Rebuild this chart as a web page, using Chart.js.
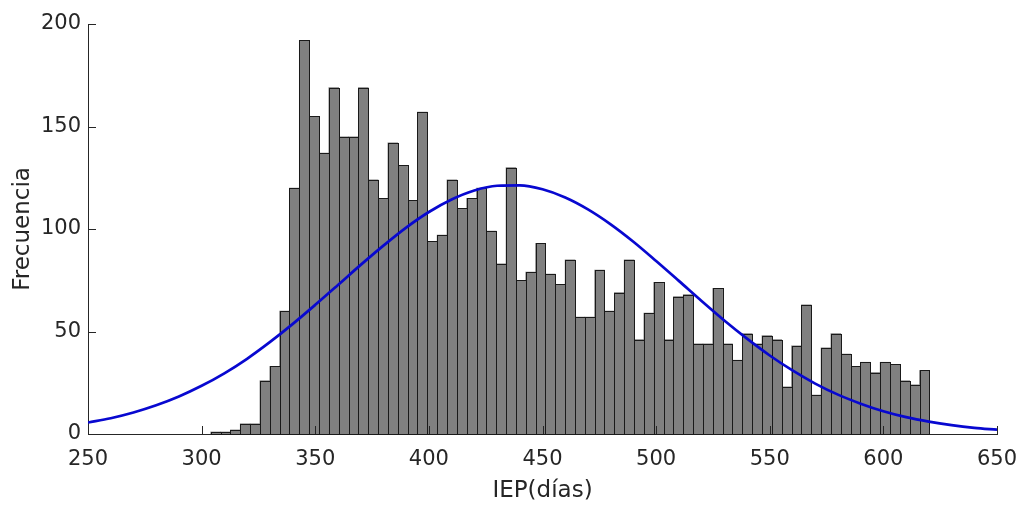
<!DOCTYPE html>
<html>
<head>
<meta charset="utf-8">
<script src="https://cdn.jsdelivr.net/npm/chart.js@4.4.1/dist/chart.umd.min.js"></script>
<style>
  html,body{margin:0;padding:0;background:#fff;}
  #wrap{width:1019px;height:505px;}
</style>
</head>
<body>
<div id="wrap"><canvas id="histChart" width="1019" height="505"></canvas></div>
<script>
/* ================= DATOS ================= */
// histograma: 73 clases desde 304 dias
const binStart = 304.0;
const binWidth = 4.332;
const counts = [
  1, 1, 2, 5, 5, 26, 33, 60, 120, 192,
  155, 137, 169, 145, 145, 169, 124, 115, 142, 131,
  114, 157, 94, 97, 124, 110, 115, 120, 99, 83,
  130, 75, 79, 93, 78, 73, 85, 57, 57, 80,
  60, 69, 85, 46, 59, 74, 46, 67, 68, 44,
  44, 71, 44, 36, 49, 44, 48, 46, 23, 43,
  63, 19, 42, 49, 39, 33, 35, 30, 35, 34,
  26, 24, 31
];

// curva normal ajustada
const curveX = [250,260,270,280,290,300,310,320,330,340,350,360,370,380,390,400,410,420,430,440,
                450,460,470,480,490,500,510,520,530,540,550,560,570,580,590,600,610,620,630,640,650];
const curveY = [5.6,7.7,10.5,14.0,18.3,23.5,29.6,36.7,44.8,53.6,63.0,72.7,82.5,91.9,100.7,108.3,114.4,118.8,121.1,121.3,
                119.4,115.4,109.6,102.3,93.8,84.4,74.7,64.9,55.4,46.5,38.3,31.0,24.6,19.2,14.8,11.1,8.2,6.0,4.3,3.0,2.1];

const xTicks = [250,300,350,400,450,500,550,600,650];
const yTicks = [0,50,100,150,200];

/* ================= ESTILO ================= */
const axisColor = "#262626";
const fontFam = "'DejaVu Sans', 'Liberation Sans', Arial, sans-serif";

const barData = counts.map((c,i)=>({x: binStart + binWidth*(i+0.5), y: c}));
const lineData = curveX.map((x,i)=>({x: x, y: curveY[i]}));

// bordes de barras nitidos (1px) sobre las barras que dibuja Chart.js
const barEdges = {
  id: "barEdges",
  afterDatasetDraw(chart, args){
    if(args.index !== 1) return;
    const {ctx} = chart;
    ctx.save();
    ctx.strokeStyle = "#1a1a1a";
    ctx.lineWidth = 1;
    args.meta.data.forEach(bar=>{
      const p = bar.getProps(["x","y","base","width"], true);
      const l = Math.round(p.x - p.width/2);
      const r = Math.round(p.x + p.width/2);
      const t = Math.round(p.y);
      const b = Math.round(p.base);
      ctx.strokeRect(l + 0.5, t + 0.5, r - l, b - t);
    });
    ctx.restore();
  }
};

// ticks hacia adentro, estilo matlab
const innerTicks = {
  id: "innerTicks",
  afterDatasetsDraw(chart){
    const {ctx, chartArea, scales:{x, y}} = chart;
    const len = 8;
    ctx.save();
    ctx.strokeStyle = axisColor;
    ctx.lineWidth = 1;
    ctx.beginPath();
    xTicks.forEach(v=>{
      const px = Math.round(x.getPixelForValue(v)) + 0.5;
      ctx.moveTo(px, chartArea.bottom);
      ctx.lineTo(px, chartArea.bottom - len);
    });
    yTicks.forEach(v=>{
      const py = Math.round(y.getPixelForValue(v)) + 0.5;
      ctx.moveTo(chartArea.left, py);
      ctx.lineTo(chartArea.left + len, py);
    });
    ctx.stroke();
    ctx.restore();
  }
};

/* ================= CHART ================= */
const ctx = document.getElementById("histChart").getContext("2d");

new Chart(ctx,{
  type:"bar",
  data:{
    datasets:[
      {
        type:"line",
        label:"Normal",
        data:lineData,
        borderColor:"#0808d0",
        borderWidth:2.7,
        pointRadius:0,
        cubicInterpolationMode:"monotone",
        fill:false,
        order:0
      },
      {
        label:"Frecuencia",
        data:barData,
        backgroundColor:"#808080",
        borderWidth:0,
        barPercentage:1,
        categoryPercentage:1,
        grouped:false,
        order:1
      }
    ]
  },
  options:{
    responsive:false,
    animation:false,
    layout:{ padding:{ top:24, right:22, left:0, bottom:0 } },
    plugins:{ legend:{display:false}, tooltip:{enabled:false} },
    scales:{
      x:{
        type:"linear",
        min:250, max:650,
        offset:false,
        afterBuildTicks: s => { s.ticks = xTicks.map(v=>({value:v})); },
        afterFit: s => { s.height = 71; s.paddingLeft = 0; s.paddingRight = 0; },
        grid:{ display:false, drawTicks:false },
        border:{ display:true, color:axisColor, width:1 },
        ticks:{ color:axisColor, padding:13, maxRotation:0, font:{ family:fontFam, size:21 } },
        title:{ display:true, text:"IEP(días)", color:axisColor, padding:{top:0,bottom:0},
                font:{ family:fontFam, size:23 } }
      },
      y:{
        min:0, max:200,
        afterBuildTicks: s => { s.ticks = yTicks.map(v=>({value:v})); },
        afterFit: s => { s.width = 88; },
        grid:{ display:false, drawTicks:false },
        border:{ display:true, color:axisColor, width:1 },
        ticks:{ color:axisColor, padding:7, font:{ family:fontFam, size:21 } },
        title:{ display:true, text:"Frecuencia", color:axisColor, padding:{top:9,bottom:0},
                font:{ family:fontFam, size:23 } }
      }
    }
  },
  plugins:[barEdges, innerTicks]
});
</script>
</body>
</html>
